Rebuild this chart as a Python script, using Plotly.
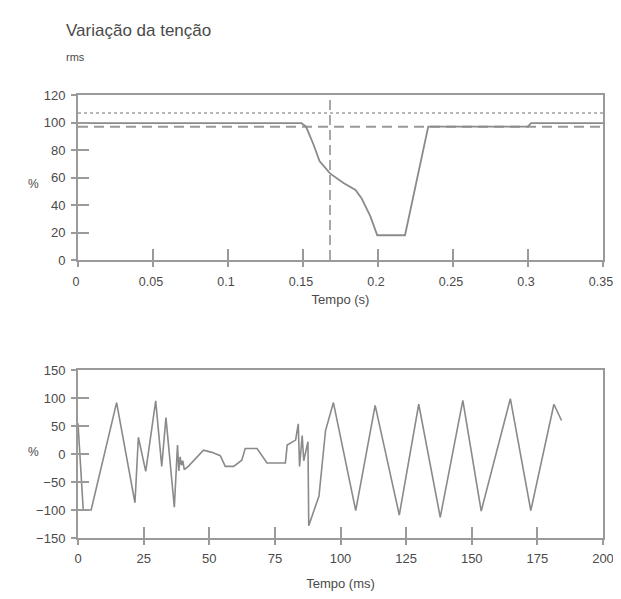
import plotly.graph_objects as go

# ---- Top chart: rms voltage (%) vs time (s)
rms_t = [0.0, 0.149, 0.152, 0.157, 0.161, 0.168, 0.177, 0.185, 0.189, 0.195, 0.1995,
         0.218, 0.2335, 0.300, 0.302, 0.35]
rms_v = [99.5, 99.5, 97, 84, 72, 63, 56, 51, 45, 31.5, 18,
         18, 97, 97, 99.5, 99.5]
upper_limit = 107
lower_limit = 97
event_time = 0.168

# ---- Bottom chart: instantaneous voltage (%) vs time (ms)
wave_t = [0, 2, 5, 14.7, 21.7, 23, 25.8, 29.6, 31.9, 33.5, 36.7, 37.9, 38.4, 38.9, 39.4, 39.9,
          40.5, 42, 47.8, 51, 54.2, 56.1, 59.3, 62.4, 63.7, 68.2, 72, 79, 79.7, 82.9,
          83.9, 84.4, 85.4, 86, 87.6, 87.9, 91.8, 94.3, 97.3, 105.8, 113.2, 122.4,
          129.8, 138, 146.6, 153.6, 164.7, 172.5, 181.3, 184.2]
wave_v = [55, -100, -100, 92, -87, 30, -31, 95, -22, 65, -95, 16, -30, -5, -20, -12,
          -28, -22, 7, 3, -3, -22, -22, -11, 10, 10, -16, -16, 16, 25,
          54, -22, 33, -12, 22, -128, -75, 42, 92, -101, 87, -109,
          89, -113, 96, -102, 99, -101, 89, 60]

TXT = "#4a4a4a"
LINE = "#8a8a8a"
AX = "#9a9a9a"
FONT = "Liberation Sans, Arial, sans-serif"

fig = go.Figure()

fig.add_trace(go.Scatter(x=[0, 0.35], y=[upper_limit, upper_limit], mode="lines",
                         line=dict(color="#a0a0a0", width=1.5, dash="dot"),
                         xaxis="x", yaxis="y", showlegend=False, hoverinfo="skip"))
fig.add_trace(go.Scatter(x=[0, 0.35], y=[lower_limit, lower_limit], mode="lines",
                         line=dict(color="#999999", width=2, dash="10px,6px"),
                         xaxis="x", yaxis="y", showlegend=False, hoverinfo="skip"))
fig.add_trace(go.Scatter(x=[event_time, event_time], y=[0, 120], mode="lines",
                         line=dict(color="#a8a8a8", width=2, dash="10px,5px"),
                         xaxis="x", yaxis="y", showlegend=False, hoverinfo="skip"))
fig.add_trace(go.Scatter(x=rms_t, y=rms_v, mode="lines",
                         line=dict(color=LINE, width=1.8),
                         xaxis="x", yaxis="y", showlegend=False))
fig.add_trace(go.Scatter(x=wave_t, y=wave_v, mode="lines",
                         line=dict(color=LINE, width=1.6),
                         xaxis="x2", yaxis="y2", showlegend=False))
# invisible traces for the outer tick overlay axes
fig.add_trace(go.Scatter(x=[0], y=[0], mode="markers", marker=dict(opacity=0),
                         xaxis="x3", yaxis="y3", showlegend=False, hoverinfo="skip"))
fig.add_trace(go.Scatter(x=[0], y=[0], mode="markers", marker=dict(opacity=0),
                         xaxis="x4", yaxis="y4", showlegend=False, hoverinfo="skip"))

top_dom = [0.6275, 1.0]
bot_dom = [0.0, 0.379]

common = dict(showline=True, linecolor=AX, linewidth=2, mirror=True, showgrid=False,
              zeroline=False, ticks="inside", ticklen=11, tickwidth=1.5, tickcolor=AX,
              automargin=False)
outer = dict(showline=False, showgrid=False, zeroline=False, ticks="outside",
             ticklen=6, tickwidth=1.5, tickcolor=AX, showticklabels=False,
             automargin=False)
tf = dict(family=FONT, size=13, color=TXT)

# page body adds an 8px offset; keep the figure inside the window
fig.update_layout(
    width=613, height=583,
    margin=dict(l=70, r=18, t=87, b=53),
    paper_bgcolor="white", plot_bgcolor="white",
    font=dict(family=FONT, color=TXT),
    xaxis=dict(domain=[0, 1], anchor="y", range=[0, 0.35], dtick=0.05, tick0=0,
               ticklabelstandoff=9, ticklabelshift=-2,
               tickfont=dict(family=FONT, size=12.5, color=TXT),
               title=dict(text="Tempo (s)", font=dict(size=13, color=TXT), standoff=7),
               **common),
    yaxis=dict(domain=top_dom, anchor="x", range=[0, 120], dtick=20,
               ticklabelstandoff=8, tickfont=tf, **common),
    xaxis2=dict(domain=[0, 1], anchor="y2", range=[0, 200], dtick=25, tick0=0,
                ticklabelstandoff=7, tickfont=tf,
                title=dict(text="Tempo (ms)", font=dict(size=13, color=TXT), standoff=16),
                **common),
    yaxis2=dict(domain=bot_dom, anchor="x2", range=[-150, 150], dtick=50,
                ticklabelstandoff=8, tickfont=tf, **common),
    xaxis3=dict(overlaying="x", matches="x", anchor="y3", range=[0, 0.35], dtick=0.05, **outer),
    yaxis3=dict(overlaying="y", matches="y", anchor="x3", range=[0, 120], dtick=20, **outer),
    xaxis4=dict(overlaying="x2", matches="x2", anchor="y4", range=[0, 200], dtick=25, **outer),
    yaxis4=dict(overlaying="y2", matches="y2", anchor="x4", range=[-150, 150], dtick=50, **outer),
    annotations=[
        dict(text="Variação da tenção", xref="paper", yref="paper", x=-0.027, y=1.0,
             xanchor="left", yanchor="bottom", yshift=53, showarrow=False,
             font=dict(family=FONT, size=17, color=TXT)),
        dict(text="rms", xref="paper", yref="paper", x=-0.027, y=1.0,
             xanchor="left", yanchor="bottom", yshift=30, showarrow=False,
             font=dict(family=FONT, size=11, color=TXT)),
        dict(text="%", xref="paper", yref="paper", x=-0.0857, y=0.799,
             xanchor="center", yanchor="middle", showarrow=False,
             font=dict(family=FONT, size=12, color=TXT)),
        dict(text="%", xref="paper", yref="paper", x=-0.0857, y=0.194,
             xanchor="center", yanchor="middle", showarrow=False,
             font=dict(family=FONT, size=12, color=TXT)),
    ],
)

fig.write_html("out.html")
